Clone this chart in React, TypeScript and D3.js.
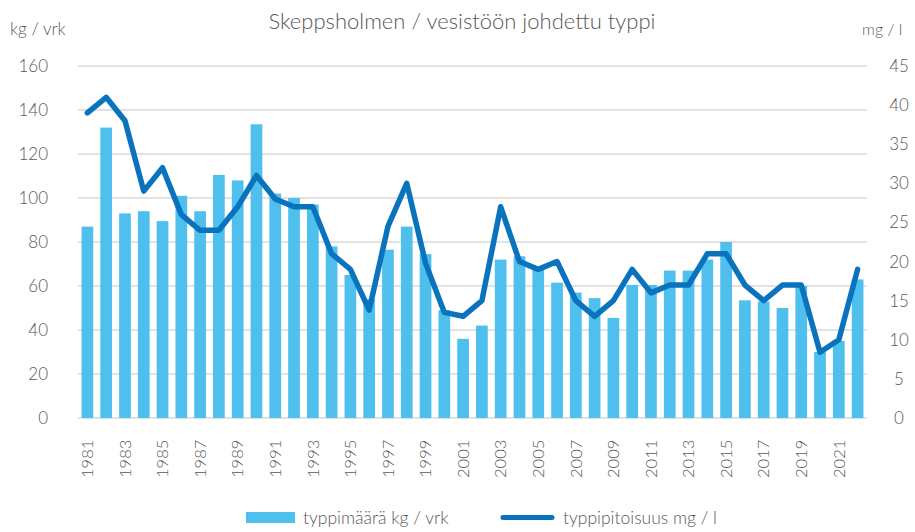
import React from "react";
import * as d3 from "d3";

const years: number[] = d3.range(1981, 2023);
const amountKg: number[] = [
  87, 132, 93, 94, 89.5, 101, 94, 110.5, 108, 133.5,
  102, 100, 97, 78, 65, 54, 76.5, 87, 74.5, 49,
  36, 42, 72, 73.5, 67.5, 61.5, 57, 54.5, 45.5, 60.5,
  60.5, 67, 67, 72, 80, 53.5, 53, 50, 60, 30,
  35, 63,
];
const concMg: number[] = [
  39, 41, 38, 29, 32, 26, 24, 24, 27, 31,
  28, 27, 27, 21, 19, 13.8, 24.5, 30, 19.8, 13.5,
  13, 15, 27, 20, 19, 20, 15, 13, 15, 19,
  16, 17, 17, 21, 21, 17, 15, 17, 17, 8.4,
  10, 19,
];
const leftTicks: number[] = [0, 20, 40, 60, 80, 100, 120, 140, 160];
const rightTicks: number[] = [0, 5, 10, 15, 20, 25, 30, 35, 40, 45];

const W = 915;
const H = 532;
const left = 78;
const right = 867;
const top = 66;
const bottom = 418;
const textColor = "#595959";
const barColor = "#4fbfee";
const lineColor = "#0a73bd";
const font = "Lato, 'Open Sans', sans-serif";

export default function App() {
  const x = d3
    .scaleBand<number>()
    .domain(years)
    .range([left, right])
    .paddingInner(0.377)
    .paddingOuter(0.1885);
  const yL = d3.scaleLinear().domain([0, 160]).range([bottom, top]);
  const yR = d3.scaleLinear().domain([0, 45]).range([bottom, top]);
  const cx = (yr: number) => (x(yr) as number) + x.bandwidth() / 2;
  const line = d3
    .line<number>()
    .x((_, i) => cx(years[i]))
    .y((d) => yR(d));

  return (
    <svg
      width={W}
      height={H}
      style={{ position: "absolute", left: 0, top: 0, background: "#fff" }}
      fontFamily={font}
      fontWeight={300}
    >
      <text x={462} y={29} textAnchor="middle" fontSize={22} fill={textColor}>
        Skeppsholmen / vesistöön johdettu typpi
      </text>
      <text x={10} y={35} fontSize={17} fill={textColor}>
        kg / vrk
      </text>
      <text x={862} y={35} fontSize={16} fill={textColor}>
        mg / l
      </text>
      {leftTicks.map((t) => (
        <g key={"g" + t}>
          <line
            x1={left}
            x2={right}
            y1={yL(t)}
            y2={yL(t)}
            stroke="#d9d9d9"
            strokeWidth={1.5}
          />
          <text
            x={48}
            y={yL(t)}
            dy="0.35em"
            textAnchor="end"
            fontSize={17}
            fill={textColor}
          >
            {t}
          </text>
        </g>
      ))}
      {rightTicks.map((t) => (
        <text
          key={"r" + t}
          x={899}
          y={yR(t)}
          dy="0.35em"
          textAnchor="middle"
          fontSize={17}
          fill={textColor}
        >
          {t}
        </text>
      ))}
      {years.map((yr, i) => (
        <rect
          key={"b" + yr}
          x={x(yr)}
          y={yL(amountKg[i])}
          width={x.bandwidth()}
          height={yL(0) - yL(amountKg[i])}
          fill={barColor}
        />
      ))}
      <path
        d={line(concMg) || ""}
        fill="none"
        stroke={lineColor}
        strokeWidth={5.5}
        strokeLinejoin="round"
        strokeLinecap="round"
      />
      {years
        .filter((yr) => yr % 2 === 1)
        .map((yr) => (
          <text
            key={"x" + yr}
            transform={`translate(${cx(yr)},478) rotate(-90)`}
            dy="0.35em"
            textAnchor="start"
            fontSize={16.5}
            fill={textColor}
          >
            {yr}
          </text>
        ))}
      <rect x={246} y={512} width={49} height={11} fill={barColor} />
      <text x={303} y={517.5} dy="0.35em" fontSize={17.5} fill={textColor}>
        typpimäärä kg / vrk
      </text>
      <line
        x1={503}
        x2={552}
        y1={517.5}
        y2={517.5}
        stroke={lineColor}
        strokeWidth={5}
        strokeLinecap="round"
      />
      <text x={563} y={517.5} dy="0.35em" fontSize={17.5} fill={textColor}>
        typpipitoisuus mg / l
      </text>
    </svg>
  );
}
